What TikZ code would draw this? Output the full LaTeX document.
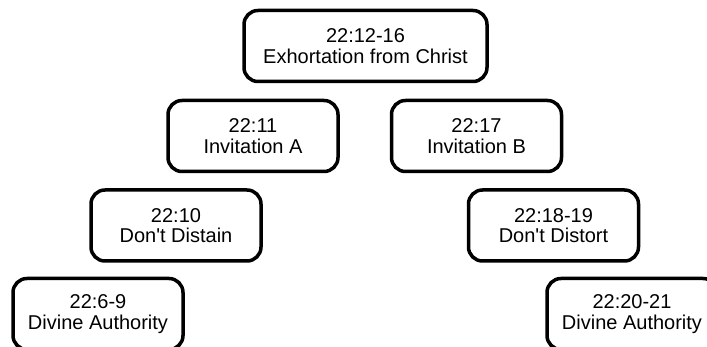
\documentclass[tikz,border=0pt]{standalone}
\usepackage{fontspec}
\setmainfont{Liberation Sans}
\usepackage{tikz}
\usetikzlibrary{positioning}
\tikzset{
  passage/.style={draw,line width=3.5pt,rounded corners=14pt,
    align=center,inner sep=0pt,minimum height=71pt,
    font=\fontsize{20}{20.5}\selectfont},
  chiasm/.style={x=1pt,y=-1pt}
}

\begin{document}
\begin{tikzpicture}[chiasm]
    \useasboundingbox (0,0) rectangle (707,347);
    \clip (0,0) rectangle (707,347);
    \node[passage,minimum width=243pt] (exhort) at (365.5,46) {22:12-16\\Exhortation from Christ};
      \foreach \name/\x/\y/\verse/\title in {
        invA/253/136/22:11/Invitation A,
        invB/476.5/136/22:17/Invitation B,
        distain/176/225.5/22:10/Don\textquotesingle t Distain,
        distort/553.5/225.5/22:18-19/Don\textquotesingle t Distort,
        authA/98/314/22:6-9/Divine Authority,
        authB/632/314/22:20-21/Divine Authority
      } {
        \node[passage,minimum width=170pt] (\name) at (\x,\y) {\verse\\\title};
      }
\end{tikzpicture}
\end{document}
